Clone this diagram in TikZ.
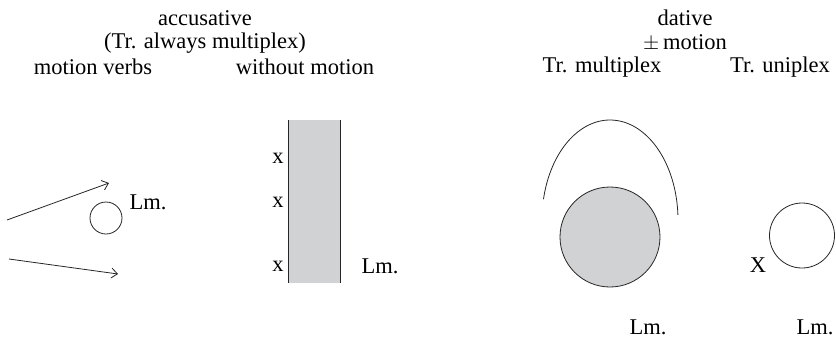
\documentclass[tikz,border=0pt]{standalone}
\usepackage{fontspec}
\setmainfont{Liberation Serif}
\usetikzlibrary{arrows.meta}
\definecolor{fillgray}{RGB}{209,210,212}
\tikzset{
  lbl/.style={font=\fontsize{22.5}{24}\selectfont, inner sep=0pt, anchor=center},
  ln/.style={line width=0.8pt, draw=black!85},
  arr/.style={ln, -{Straight Barb[length=6pt,width=10pt]}},
}
\begin{document}
\begin{tikzpicture}[x=1pt,y=-1pt]
\useasboundingbox (0,0) rectangle (836,338);
% headings left
\node[lbl] (acc) at (205,18) {accusative};
\node[lbl] (accsub) at (205,43) {(Tr. always multiplex)};
\node[lbl] (mv) at (93,67) {motion verbs};
\node[lbl] (wm) at (305,67) {without motion};
% headings right
\node[lbl] (dat) at (685,18) {dative};
\node[lbl] (pm) at (685,43) {$\pm$\,motion};
\node[lbl] (trm) at (602,67) {Tr. multiplex};
\node[lbl] (tru) at (780,67) {Tr. uniplex};
% motion verbs
\node[ln, draw, circle, minimum size=32pt, inner sep=0pt] (lm1) at (106,218) {};
\node[lbl] (lm1t) at (148,202) {Lm.};
\coordinate (a1s) at (7,220);
\coordinate (a1e) at (109,183);
\coordinate (a2s) at (9,259);
\coordinate (a2e) at (118,274);
\draw[arr] (a1s) -- (a1e);
\draw[arr] (a2s) -- (a2e);
% without motion
\node[fill=fillgray, minimum width=51pt, minimum height=163pt, inner sep=0pt] (bar) at (314.5,201.5) {};
\draw[ln] (bar.north west) -- (bar.south west);
\draw[ln] (bar.north east) -- (bar.south east);
\node[lbl] (x1) at (278,158) {x};
\node[lbl] (x2) at (278,202) {x};
\node[lbl] (x3) at (278,266) {x};
\node[lbl] (lm2t) at (380,266) {Lm.};
% dative multiplex
\draw[ln] plot[domain=3:168, samples=80, smooth] ({610+68*cos(\x)},{220-100*sin(\x)});
\node[ln, draw, fill=fillgray, circle, minimum size=100pt, inner sep=0pt] (lm3) at (610,237) {};
\node[lbl] (lm3t) at (648,327) {Lm.};
% dative uniplex
\node[ln, draw, circle, minimum size=65pt, inner sep=0pt] (lm4) at (802,235.5) {};
\node[lbl] (xu) at (758,265) {X};
\node[lbl] (lm4t) at (815,327) {Lm.};
\end{tikzpicture}
\end{document}
